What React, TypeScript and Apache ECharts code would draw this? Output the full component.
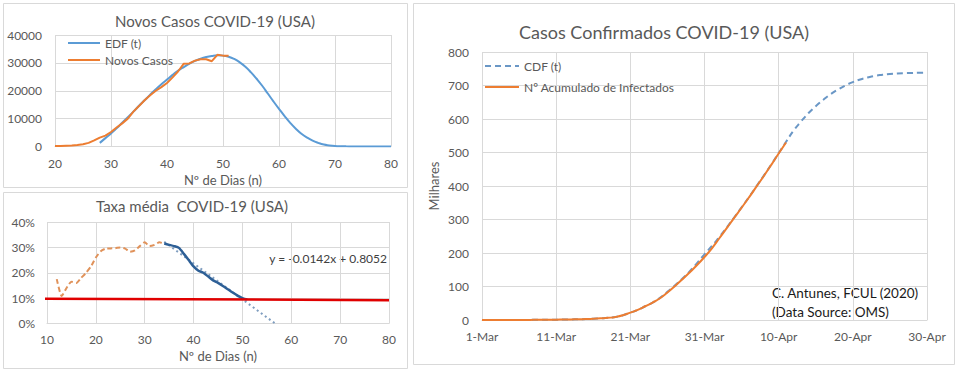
import React, { useEffect, useRef } from "react";
import * as echarts from "echarts";

const FONT = "Lato, 'Open Sans', sans-serif";
const TEXT = "#595959";
const GRID_LINE = "#D9D9D9";

// ---------- Panel 1: Novos Casos COVID-19 (USA) ----------
const novosStartDay = 20;
const novosCasos = [
  150, 200, 300, 400, 550, 800, 1300, 2200, 3200, 3900, 5200, 6800, 8300, 10000,
  12500, 14500, 16600, 18400, 20000, 21300, 22800, 24800, 27000, 29700, 29800,
  30800, 31300, 31300, 30600, 32900, 32600, 32600,
];
const edfStartDay = 28;
const edfValues = [
  1300, 3000, 4700, 6500, 8500, 10500, 12500, 14600, 16600, 18600, 20500, 22300,
  24000, 25700, 27200, 28500, 29700, 30700, 31500, 32100, 32500, 32700, 32600,
  32200, 31400, 30200, 28600, 26600, 24300, 21800, 19000, 16200, 13500, 10900,
  8500, 6400, 4600, 3200, 2100, 1300, 700, 400, 200, 100, 50, 20, 10, 0, 0, 0, 0,
  0, 0,
];

// ---------- Panel 2: Taxa média COVID-19 (USA) ----------
const taxaOrangeStart = 12;
const taxaOrange = [
  0.175, 0.108, 0.14, 0.165, 0.16, 0.18, 0.2, 0.225, 0.26, 0.285, 0.295, 0.296,
  0.297, 0.3, 0.295, 0.283, 0.288, 0.305, 0.32, 0.305, 0.31, 0.32, 0.315,
];
const taxaBlueStart = 34;
const taxaBlue = [
  0.315, 0.31, 0.305, 0.298, 0.275, 0.25, 0.225, 0.208, 0.2, 0.185, 0.17, 0.16,
  0.148, 0.135, 0.122, 0.11, 0.1, 0.095,
];
const trendDays = [34, 56.7];
const trendValues = [0.322, 0];
const limiarDays = [8, 80];
const limiarValues = [0.098, 0.092];
const trendEquation = "y = -0.0142x + 0.8052";

// ---------- Panel 3: Casos Confirmados COVID-19 (USA) ----------
const dateTickLabels = ["1-Mar", "11-Mar", "21-Mar", "31-Mar", "10-Apr", "20-Apr", "30-Apr"];
const acumulado = [
  0.1, 0.1, 0.1, 0.1, 0.2, 0.2, 0.3, 0.4, 0.5, 0.7, 1.0, 1.3, 1.7, 2.2, 2.9, 3.8,
  5.0, 6.5, 9, 14, 22, 30, 41, 52, 65, 82, 101, 121, 142, 164, 188, 214, 244, 274,
  305, 335, 366, 398, 430, 463, 497, 530,
];
const cdfValues = [
  0.1, 0.1, 0.1, 0.1, 0.2, 0.2, 0.3, 0.4, 0.5, 0.7, 1.0, 1.3, 1.7, 2.2, 2.9, 3.8,
  5.0, 6.5, 9, 14, 22, 30, 41, 52, 66, 84, 103, 123, 145, 170, 196, 221, 248, 276,
  306, 336, 367, 399, 431, 464, 498, 532, 565, 592, 617, 638, 657, 674, 688, 700,
  710, 718, 724, 729, 732, 734.5, 736, 737, 737.5, 738, 738,
];

const toPairs = (start: number, vals: number[]) => vals.map((v, i) => [start + i, v]);
const zipPairs = (xs: number[], ys: number[]) => xs.map((x, i) => [x, ys[i]]);

const axisLabelStyle = { color: TEXT, fontFamily: FONT, fontSize: 12 };
const splitLine = { show: true, lineStyle: { color: GRID_LINE, width: 1 } };
const axisLine = { show: true, lineStyle: { color: GRID_LINE, width: 1 } };

const centeredText = (x: number, y: number, text: string, fontSize: number, align = "center", fill = TEXT) => ({
  type: "text",
  x,
  y,
  style: {
    text,
    align,
    verticalAlign: "middle",
    textAlign: align,
    textVerticalAlign: "middle",
    fontSize,
    fontFamily: FONT,
    fill,
  },
});

export default function App() {
  const ref = useRef<HTMLDivElement>(null);

  useEffect(() => {
    if (!ref.current) return;
    const chart = echarts.init(ref.current, undefined, { renderer: "svg" });

    const legendBase = {
      orient: "vertical",
      itemHeight: 14,
      itemStyle: { opacity: 0, borderWidth: 0 },
      textStyle: { color: TEXT, fontSize: 12, fontFamily: FONT },
    };

    const option: any = {
      animation: false,
      backgroundColor: "#ffffff",
      textStyle: { fontFamily: FONT },
      graphic: [
        { type: "rect", shape: { x: 3.5, y: 3.5, width: 404, height: 184 }, style: { fill: "#fff", stroke: GRID_LINE, lineWidth: 1 }, z: -10 },
        { type: "rect", shape: { x: 3.5, y: 192.5, width: 404, height: 176 }, style: { fill: "#fff", stroke: GRID_LINE, lineWidth: 1 }, z: -10 },
        { type: "rect", shape: { x: 413.5, y: 3.5, width: 541, height: 361 }, style: { fill: "#fff", stroke: GRID_LINE, lineWidth: 1 }, z: -10 },
        centeredText(215, 21, "Novos Casos COVID-19 (USA)", 15),
        centeredText(192, 206, "Taxa média  COVID-19 (USA)", 15),
        centeredText(664, 32, "Casos Confirmados COVID-19 (USA)", 18),
        centeredText(387, 258, trendEquation, 12, "right", "#404040"),
        centeredText(772, 293, "C. Antunes, FCUL (2020)", 13.5, "left", "#1a1a1a"),
        centeredText(772, 312, "(Data Source: OMS)", 13.5, "left", "#1a1a1a"),
      ],
      legend: [
        {
          ...legendBase,
          data: ["EDF (t)", "Novos Casos"],
          left: 62,
          top: 32,
          itemWidth: 32,
          itemGap: 5,
        },
        {
          ...legendBase,
          data: ["CDF (t)", "Nº Acumulado de Infectados"],
          left: 479,
          top: 55,
          itemWidth: 34,
          itemGap: 9,
        },
      ],
      grid: [
        { left: 55, top: 35, width: 336, height: 111.5, outerBoundsMode: "none", containLabel: false },
        { left: 47, top: 222, width: 342, height: 101.5, outerBoundsMode: "none", containLabel: false },
        { left: 482, top: 52, width: 445, height: 268, outerBoundsMode: "none", containLabel: false },
      ],
      xAxis: [
        {
          gridIndex: 0, type: "value", min: 20, max: 80, interval: 10,
          axisLine, axisTick: { show: false }, splitLine,
          axisLabel: { ...axisLabelStyle, margin: 11 },
          name: "Nº de Dias (n)", nameLocation: "middle", nameGap: 27,
          nameTextStyle: { color: TEXT, fontSize: 13, fontFamily: FONT },
        },
        {
          gridIndex: 1, type: "value", min: 10, max: 80, interval: 10,
          axisLine, axisTick: { show: false }, splitLine,
          axisLabel: { ...axisLabelStyle, margin: 10 },
          name: "Nº de Dias (n)", nameLocation: "middle", nameGap: 26,
          nameTextStyle: { color: TEXT, fontSize: 13, fontFamily: FONT },
        },
        {
          gridIndex: 2, type: "value", min: 0, max: 60, interval: 10,
          axisLine, axisTick: { show: false }, splitLine,
          axisLabel: { ...axisLabelStyle, margin: 10, formatter: (v: number) => dateTickLabels[Math.round(v / 10)] ?? "" },
        },
      ],
      yAxis: [
        {
          gridIndex: 0, type: "value", min: 0, max: 40000, interval: 10000,
          axisLine: { show: false }, axisTick: { show: false }, splitLine,
          axisLabel: { ...axisLabelStyle, margin: 13, formatter: (v: number) => String(v) },
        },
        {
          gridIndex: 1, type: "value", min: 0, max: 0.4, interval: 0.1,
          axisLine: { show: false }, axisTick: { show: false }, splitLine,
          axisLabel: { ...axisLabelStyle, margin: 12, formatter: (v: number) => Math.round(v * 100) + "%" },
        },
        {
          gridIndex: 2, type: "value", min: 0, max: 800, interval: 100,
          axisLine: { show: false }, axisTick: { show: false }, splitLine,
          axisLabel: { ...axisLabelStyle, margin: 13, formatter: (v: number) => String(v) },
          name: "Milhares", nameLocation: "middle", nameGap: 42,
          nameTextStyle: { color: TEXT, fontSize: 13, fontFamily: FONT },
        },
      ],
      series: [
        {
          name: "EDF (t)", type: "line", xAxisIndex: 0, yAxisIndex: 0,
          data: toPairs(edfStartDay, edfValues), smooth: true, symbol: "none",
          lineStyle: { color: "#5B9BD5", width: 2 }, itemStyle: { color: "#5B9BD5" },
        },
        {
          name: "Novos Casos", type: "line", xAxisIndex: 0, yAxisIndex: 0,
          data: toPairs(novosStartDay, novosCasos), symbol: "none",
          lineStyle: { color: "#ED7D31", width: 2 }, itemStyle: { color: "#ED7D31" },
        },
        {
          name: "Taxa média", type: "line", xAxisIndex: 1, yAxisIndex: 1,
          data: toPairs(taxaOrangeStart, taxaOrange), symbol: "none", smooth: 0.2,
          lineStyle: { color: "#E0925A", width: 2, type: [5, 3] }, itemStyle: { color: "#E0925A" },
        },
        {
          name: "Tendência", type: "line", xAxisIndex: 1, yAxisIndex: 1,
          data: zipPairs(trendDays, trendValues), symbol: "none",
          lineStyle: { color: "#7F9DBF", width: 2, type: [2, 3] }, itemStyle: { color: "#7F9DBF" },
        },
        {
          name: "Taxa média (ajuste)", type: "line", xAxisIndex: 1, yAxisIndex: 1,
          data: toPairs(taxaBlueStart, taxaBlue), symbol: "none", smooth: 0.2,
          lineStyle: { color: "#2D5F96", width: 2.5 }, itemStyle: { color: "#2D5F96" },
        },
        {
          name: "Limiar 10%", type: "line", xAxisIndex: 1, yAxisIndex: 1,
          data: zipPairs(limiarDays, limiarValues), symbol: "none", clip: false,
          lineStyle: { color: "#E00000", width: 2.5 }, itemStyle: { color: "#E00000" },
        },
        {
          name: "CDF (t)", type: "line", xAxisIndex: 2, yAxisIndex: 2,
          data: toPairs(0, cdfValues), smooth: true, symbol: "none",
          lineStyle: { color: "#6A97C6", width: 2, type: [6, 4] }, itemStyle: { color: "#6A97C6" },
        },
        {
          name: "Nº Acumulado de Infectados", type: "line", xAxisIndex: 2, yAxisIndex: 2,
          data: toPairs(0, acumulado), smooth: true, symbol: "none",
          lineStyle: { color: "#ED7D31", width: 2 }, itemStyle: { color: "#ED7D31" },
        },
      ],
    };

    chart.setOption(option);
    return () => chart.dispose();
  }, []);

  return (
    <div
      ref={ref}
      style={{ position: "fixed", left: 0, top: 0, width: 960, height: 373, background: "#fff" }}
    />
  );
}
